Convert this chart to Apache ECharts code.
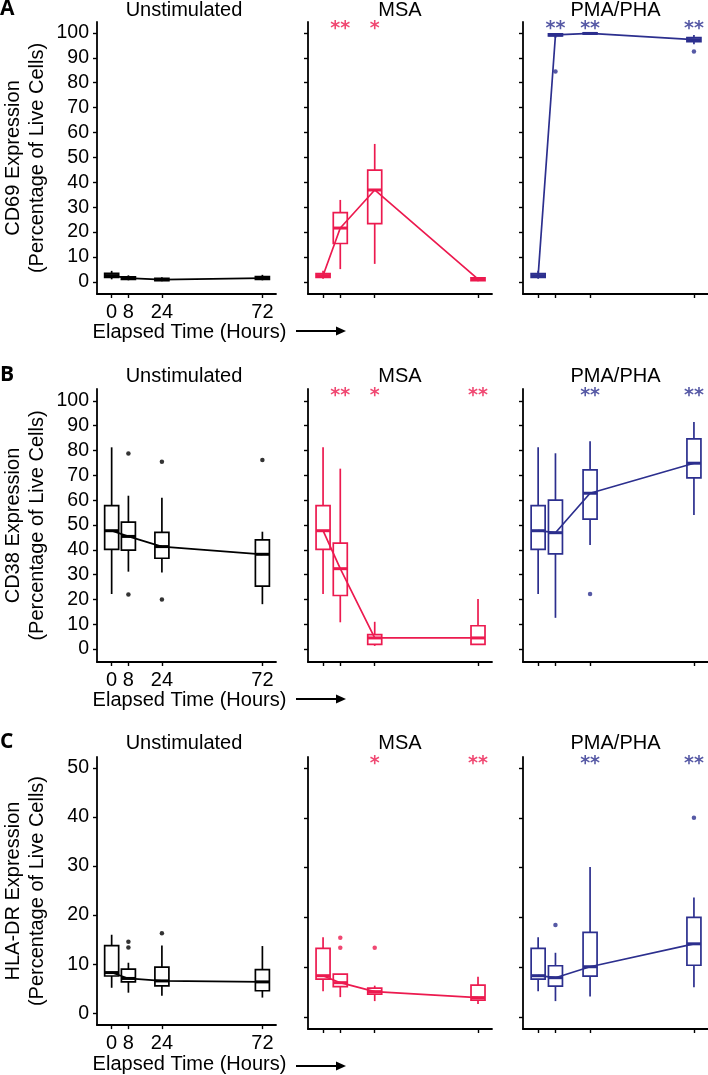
<!DOCTYPE html>
<html>
<head>
<meta charset="utf-8">
<title>Activation markers over time</title>
<script src="https://cdn.jsdelivr.net/npm/echarts@6/dist/echarts.min.js"></script>
<style>
  html, body { margin: 0; padding: 0; background: #fff; }
  #chart { width: 708px; height: 1075px; }
</style>
</head>
<body>
<div id="chart"></div>
<script>
// time points (hours)
const hours = [0, 8, 24, 72];
const panelNames = ['Unstimulated', 'MSA', 'PMA/PHA'];
const rowLetters = ['A', 'B', 'C'];
const rowNames = ['CD69 Expression', 'CD38 Expression', 'HLA-DR Expression'];

// boxes: [min, q1, median, q3, max] for 0, 8, 24, 72 h
const cd69Unstim = [[1.0, 1.8, 2.5, 3.4, 4.4], [0.6, 1.0, 1.5, 2.0, 2.6], [0.2, 0.5, 0.9, 1.4, 1.8], [0.6, 1.0, 1.5, 2.1, 2.8]];
const cd69Msa    = [[1.2, 1.8, 2.5, 3.3, 4.4], [5.1, 15.4, 21.6, 27.8, 32.9], [7.2, 23.4, 36.9, 44.9, 55.4], [0.2, 0.5, 1.1, 1.6, 1.9]];
const cd69Pma    = [[1.2, 1.8, 2.5, 3.3, 4.4], [98.0, 98.8, 99.2, 99.6, 99.9], [99.4, 99.6, 99.8, 100, 100], [95.5, 96.5, 97.3, 98.1, 99.2]];

const cd38Unstim = [[22.2, 40.2, 47.7, 57.8, 81.3], [31.2, 39.9, 45.4, 51.2, 61.8], [30.9, 36.6, 41.3, 47.0, 61.0], [18.1, 25.4, 38.2, 44.0, 47.3]];
const cd38Msa    = [[22.2, 40.2, 47.7, 57.8, 81.3], [10.8, 21.6, 32.4, 42.7, 72.7], [1.3, 1.9, 4.5, 5.8, 11.0], [1.9, 1.9, 4.5, 9.4, 20.2]];
const cd38Pma    = [[22.2, 40.2, 47.7, 57.8, 81.3], [12.6, 38.4, 46.9, 60.0, 78.9], [41.9, 52.4, 62.8, 72.2, 83.7], [54.0, 69.0, 74.9, 84.7, 91.5]];

const hladrUnstim = [[5.2, 7.6, 8.3, 13.8, 16.0], [4.2, 6.4, 7.1, 9.0, 10.3], [3.6, 5.6, 6.6, 9.4, 13.8], [3.2, 4.6, 6.4, 8.9, 13.7]];
const hladrMsa    = [[5.2, 7.6, 8.3, 13.8, 16.0], [4.0, 6.1, 6.9, 8.6, 8.6], [3.2, 4.6, 5.1, 5.8, 6.3], [2.6, 3.4, 3.9, 6.4, 8.1]];
const hladrPma    = [[5.2, 7.6, 8.3, 13.8, 16.0], [3.2, 6.2, 7.9, 10.3, 12.9], [4.1, 8.2, 10.1, 17.0, 30.1], [6.0, 10.4, 14.7, 20.0, 24.0]];

// outliers [hour, value]
const cd69UnstimOut = [];
const cd69MsaOut = [];
const cd69PmaOut = [[8, 84.5], [72, 92.5]];
const cd38UnstimOut = [[8, 78.8], [8, 22.0], [24, 75.5], [24, 20.0], [72, 76.2]];
const cd38MsaOut = [];
const cd38PmaOut = [[24, 22.2]];
const hladrUnstimOut = [[8, 14.6], [8, 13.4], [24, 16.3]];
const hladrMsaOut = [[8, 15.9], [8, 13.9], [24, 13.9]];
const hladrPmaOut = [[8, 18.5], [72, 40.0]];

// significance marks for 0, 8, 24, 72 h
const cd69UnstimStars = ['', '', '', ''];
const cd69MsaStars = ['', '**', '*', ''];
const cd69PmaStars = ['', '**', '**', '**'];
const cd38UnstimStars = ['', '', '', ''];
const cd38MsaStars = ['', '**', '*', '**'];
const cd38PmaStars = ['', '', '**', '**'];
const hladrUnstimStars = ['', '', '', ''];
const hladrMsaStars = ['', '', '*', '**'];
const hladrPmaStars = ['', '', '**', '**'];

const boxes = [[cd69Unstim, cd69Msa, cd69Pma], [cd38Unstim, cd38Msa, cd38Pma], [hladrUnstim, hladrMsa, hladrPma]];
const outliers = [[cd69UnstimOut, cd69MsaOut, cd69PmaOut], [cd38UnstimOut, cd38MsaOut, cd38PmaOut], [hladrUnstimOut, hladrMsaOut, hladrPmaOut]];
const stars = [[cd69UnstimStars, cd69MsaStars, cd69PmaStars], [cd38UnstimStars, cd38MsaStars, cd38PmaStars], [hladrUnstimStars, hladrMsaStars, hladrPmaStars]];

const yTicksPct = [0, 10, 20, 30, 40, 50, 60, 70, 80, 90, 100];
const yTicksLow = [0, 10, 20, 30, 40, 50];
const yTicks = [yTicksPct, yTicksPct, yTicksLow];
const yRanges = [[-4.9, 104.4], [-5.2, 104.8], [-2.4, 52.2]];

const colors = ['#000000', '#ec1a4f', '#2c2f8e'];
const font = '"Liberation Sans", Arial, sans-serif';

// layout
const gridLefts = [92, 308, 523];
const gridWidths = [184, 184, 185];
const rowTops = [22, 389, 757];
const rowHeights = [272, 273, 272];
const titleYs = [10, 376, 743];

let chartDom = document.getElementById('chart');
let myChart = echarts.init(chartDom);

function renderBox(params, api) {
  const x = api.value(0);
  const pMin = api.coord([x, api.value(1)]);
  const pQ1 = api.coord([x, api.value(2)]);
  const pMed = api.coord([x, api.value(3)]);
  const pQ3 = api.coord([x, api.value(4)]);
  const pMax = api.coord([x, api.value(5)]);
  const hw = 7;
  const color = api.visual('color');
  return {
    type: 'group',
    children: [
      { type: 'line', shape: { x1: pMin[0], y1: pMin[1], x2: pQ1[0], y2: pQ1[1] }, style: { stroke: color, lineWidth: 1.7 } },
      { type: 'line', shape: { x1: pQ3[0], y1: pQ3[1], x2: pMax[0], y2: pMax[1] }, style: { stroke: color, lineWidth: 1.7 } },
      { type: 'rect', shape: { x: pQ3[0] - hw, y: pQ3[1], width: hw * 2, height: pQ1[1] - pQ3[1] }, style: { fill: 'none', stroke: color, lineWidth: 1.7 } },
      { type: 'line', shape: { x1: pMed[0] - hw, y1: pMed[1], x2: pMed[0] + hw, y2: pMed[1] }, style: { stroke: color, lineWidth: 3 } }
    ]
  };
}

const grid = [], xAxis = [], yAxis = [], series = [], graphic = [];

for (let r = 0; r < 3; r++) {
  for (let c = 0; c < 3; c++) {
    const idx = r * 3 + c;
    const first = c === 0;
    grid.push({ left: gridLefts[c], top: rowTops[r], width: gridWidths[c], height: rowHeights[r] });
    xAxis.push({
      type: 'value', gridIndex: idx, min: -7, max: 78.5,
      axisLine: { show: true, onZero: false, lineStyle: { color: '#000', width: 1.8 } },
      axisTick: { show: true, length: 4, customValues: hours, lineStyle: { color: '#000', width: 1.4 } },
      axisLabel: { show: first, customValues: hours, margin: 8, color: '#000', fontSize: 20, fontFamily: font },
      splitLine: { show: false },
      name: first ? 'Elapsed Time (Hours)' : '',
      nameLocation: 'middle', nameGap: 26,
      nameTextStyle: { color: '#000', fontSize: 20, fontFamily: font, padding: [0, 0, 0, 6] }
    });
    yAxis.push({
      type: 'value', gridIndex: idx, min: yRanges[r][0], max: yRanges[r][1],
      axisLine: { show: true, onZero: false, lineStyle: { color: '#000', width: 1.8 } },
      axisTick: { show: true, length: 4, customValues: yTicks[r], lineStyle: { color: '#000', width: 1.4 } },
      axisLabel: { show: first, customValues: yTicks[r], margin: 8, color: '#000', fontSize: 19.5, fontFamily: font },
      splitLine: { show: false },
      name: first ? rowNames[r] + '\n(Percentage of Live Cells)' : '',
      nameLocation: 'middle', nameGap: 48, nameRotate: 90,
      nameTextStyle: { color: '#000', fontSize: 20, lineHeight: 24, fontFamily: font }
    });

    const b = boxes[r][c];
    series.push({
      type: 'custom', xAxisIndex: idx, yAxisIndex: idx,
      renderItem: renderBox,
      itemStyle: { color: colors[c] },
      encode: { x: 0, y: [1, 2, 3, 4, 5] },
      data: hours.map((h, i) => [h].concat(b[i])),
      z: 2
    });
    series.push({
      type: 'line', xAxisIndex: idx, yAxisIndex: idx,
      data: hours.map((h, i) => [h, b[i][2]]),
      showSymbol: false, symbol: 'none',
      lineStyle: { color: colors[c], width: 1.7 },
      z: 3
    });
    series.push({
      type: 'scatter', xAxisIndex: idx, yAxisIndex: idx,
      data: outliers[r][c],
      symbolSize: 4.5,
      itemStyle: { color: colors[c] },
      z: 4
    });
    const st = [];
    hours.forEach((h, i) => { if (stars[r][c][i]) st.push({ name: stars[r][c][i], value: [h, yRanges[r][1]] }); });
    series.push({
      type: 'scatter', xAxisIndex: idx, yAxisIndex: idx,
      data: st, symbolSize: 0,
      label: {
        show: true, position: 'inside', offset: [0, 7], formatter: '{b}',
        color: colors[c], fontSize: 19, fontWeight: 'bold', fontFamily: '"DejaVu Sans", sans-serif'
      },
      z: 5
    });

    graphic.push({
      type: 'text', x: gridLefts[c] + gridWidths[c] / 2, y: titleYs[r],
      style: { text: panelNames[c], fill: '#000', font: '20px ' + font, textAlign: 'center', textVerticalAlign: 'middle' }
    });
  }
  graphic.push({
    type: 'text', x: 0, y: titleYs[r] - 1,
    style: { text: rowLetters[r], fill: '#000', font: 'bold 21px "Open Sans", Lato, sans-serif', textAlign: 'left', textVerticalAlign: 'middle' }
  });
  // arrow after the x-axis title
  const ay = rowTops[r] + rowHeights[r] + 37;
  graphic.push({ type: 'line', shape: { x1: 296, y1: ay, x2: 338, y2: ay }, style: { stroke: '#000', lineWidth: 1.8 } });
  graphic.push({ type: 'polygon', shape: { points: [[336, ay - 4.5], [346, ay], [336, ay + 4.5]] }, style: { fill: '#000' } });
}

let option = {
  animation: false,
  backgroundColor: '#fff',
  grid: grid,
  xAxis: xAxis,
  yAxis: yAxis,
  series: series,
  graphic: graphic
};

myChart.setOption(option);
window.addEventListener('resize', () => { myChart.resize(); });
</script>
</body>
</html>
